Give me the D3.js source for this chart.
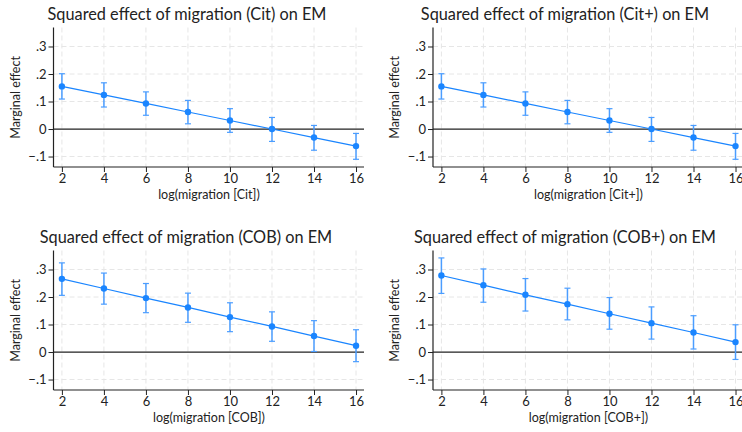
<!DOCTYPE html>
<html>
<head>
<meta charset="utf-8">
<script src="https://cdn.jsdelivr.net/npm/d3@7"></script>
<style>
  body { margin: 0; background: #fff; }
  svg { font-family: Lato, "Open Sans", sans-serif; }
</style>
</head>
<body>
<div id="chart"></div>
<script>
// x values shared by every panel
const xVals = [2, 4, 6, 8, 10, 12, 14, 16]
const xTicks = [2, 4, 6, 8, 10, 12, 14, 16]
const yTicks = [-0.1, 0, 0.1, 0.2, 0.3]

// marginal effects and 95% CIs
const citEst = [0.155, 0.124, 0.093, 0.062, 0.031, 0.000, -0.031, -0.062]
const citLo = [0.109, 0.080, 0.050, 0.019, -0.012, -0.045, -0.077, -0.110]
const citHi = [0.201, 0.168, 0.135, 0.104, 0.074, 0.042, 0.013, -0.016]

const citpEst = [0.155, 0.124, 0.093, 0.062, 0.031, 0.000, -0.031, -0.062]
const citpLo = [0.109, 0.080, 0.050, 0.019, -0.012, -0.045, -0.077, -0.110]
const citpHi = [0.201, 0.168, 0.135, 0.104, 0.074, 0.042, 0.013, -0.016]

const cobEst = [0.266, 0.231, 0.196, 0.162, 0.127, 0.093, 0.058, 0.023]
const cobLo = [0.206, 0.174, 0.143, 0.108, 0.074, 0.039, 0.002, -0.035]
const cobHi = [0.324, 0.287, 0.249, 0.214, 0.179, 0.146, 0.114, 0.081]

const cobpEst = [0.278, 0.243, 0.208, 0.174, 0.139, 0.105, 0.071, 0.036]
const cobpLo = [0.213, 0.181, 0.149, 0.117, 0.083, 0.047, 0.011, -0.027]
const cobpHi = [0.342, 0.302, 0.267, 0.232, 0.198, 0.164, 0.132, 0.099]

const panels = [
    {title: "Squared effect of migration (Cit) on EM", xlab: "log(migration [Cit])", est: citEst, lo: citLo, hi: citHi, left: 53.5, top: 27.5, tx: 187},
    {title: "Squared effect of migration (Cit+) on EM", xlab: "log(migration [Cit+])", est: citpEst, lo: citpLo, hi: citpHi, left: 433, top: 27.5, tx: 565},
    {title: "Squared effect of migration (COB) on EM", xlab: "log(migration [COB])", est: cobEst, lo: cobLo, hi: cobHi, left: 53.5, top: 250.5, tx: 186},
    {title: "Squared effect of migration (COB+) on EM", xlab: "log(migration [COB+])", est: cobpEst, lo: cobpLo, hi: cobpHi, left: 433, top: 250.5, tx: 565}
]

const plotW = 310.5, plotH = 139.5
const blue = "#1a85ff", ciBlue = "#4b9dff"

const svg = d3.select("#chart")
    .append("svg")
    .attr("width", 742)
    .attr("height", 432)

svg.append("rect").attr("width", 742).attr("height", 432).attr("fill", "#fff")

panels.forEach(p => {
    const x = d3.scaleLinear().domain([1.6, 16.38]).range([p.left, p.left + plotW])
    const y = d3.scaleLinear().domain([-0.138, 0.369]).range([p.top + plotH, p.top])
    const g = svg.append("g")

    // grid
    g.selectAll(".vg").data(xTicks).join("line")
        .attr("x1", d => x(d)).attr("x2", d => x(d))
        .attr("y1", p.top).attr("y2", p.top + plotH)
        .attr("stroke", "#e6e6e6").attr("stroke-dasharray", "5,3")
    g.selectAll(".hg").data(yTicks.filter(d => d != 0)).join("line")
        .attr("x1", p.left).attr("x2", p.left + plotW)
        .attr("y1", d => y(d)).attr("y2", d => y(d))
        .attr("stroke", "#e6e6e6").attr("stroke-dasharray", "5,3")

    // zero line
    g.append("line")
        .attr("x1", p.left).attr("x2", p.left + plotW)
        .attr("y1", y(0)).attr("y2", y(0))
        .attr("stroke", "#222").attr("stroke-width", 1.2)

    // axes
    const yAxis = g.append("g")
        .attr("transform", `translate(${p.left},0)`)
        .call(d3.axisLeft(y).tickValues(yTicks).tickSize(5).tickPadding(2)
            .tickFormat(d => d == 0 ? "0" : d3.format(".1f")(d).replace("0.", ".")))
    const xAxis = g.append("g")
        .attr("transform", `translate(0,${p.top + plotH})`)
        .call(d3.axisBottom(x).tickValues(xTicks).tickSize(5).tickPadding(2))
    ;[xAxis, yAxis].forEach(a => {
        a.select(".domain").attr("stroke", "#222").attr("stroke-width", 1.2)
        a.selectAll(".tick line").attr("stroke", "#222")
        a.selectAll("text").attr("fill", "#222").style("font-size", "13px")
            .style("font-family", "Lato, sans-serif")
    })
    xAxis.select(".domain").attr("d", `M${p.left},0H${p.left + plotW}`)
    yAxis.select(".domain").attr("d", `M0,${p.top}V${p.top + plotH}`)

    // CI bars
    const pts = xVals.map((v, i) => ({x: v, est: p.est[i], lo: p.lo[i], hi: p.hi[i]}))
    g.selectAll(".ci").data(pts).join("line")
        .attr("x1", d => x(d.x)).attr("x2", d => x(d.x))
        .attr("y1", d => y(d.lo)).attr("y2", d => y(d.hi))
        .attr("stroke", ciBlue).attr("stroke-width", 1.5)
    ;["lo", "hi"].forEach(k => {
        g.selectAll(".cap" + k).data(pts).join("line")
            .attr("x1", d => x(d.x) - 3).attr("x2", d => x(d.x) + 3)
            .attr("y1", d => y(d[k])).attr("y2", d => y(d[k]))
            .attr("stroke", ciBlue).attr("stroke-width", 1.2)
    })

    // line + points
    g.append("path").datum(pts)
        .attr("fill", "none").attr("stroke", blue).attr("stroke-width", 1.2)
        .attr("d", d3.line().x(d => x(d.x)).y(d => y(d.est)))
    g.selectAll(".pt").data(pts).join("circle")
        .attr("cx", d => x(d.x)).attr("cy", d => y(d.est)).attr("r", 3.2)
        .attr("fill", blue)

    // titles
    g.append("text").attr("x", p.tx).attr("y", p.top - 8)
        .attr("text-anchor", "middle").attr("fill", "#222")
        .style("font-size", "16.3px").text(p.title)
    g.append("text").attr("x", (x(2) + x(16)) / 2).attr("y", p.top + plotH + 32)
        .attr("text-anchor", "middle").attr("fill", "#222")
        .style("font-size", "12.5px").text(p.xlab)
    g.append("text")
        .attr("transform", `translate(${p.left - 34},${y(0.115)}) rotate(-90)`)
        .attr("text-anchor", "middle").attr("fill", "#222")
        .style("font-size", "12.5px").text("Marginal effect")
})
</script>
</body>
</html>
